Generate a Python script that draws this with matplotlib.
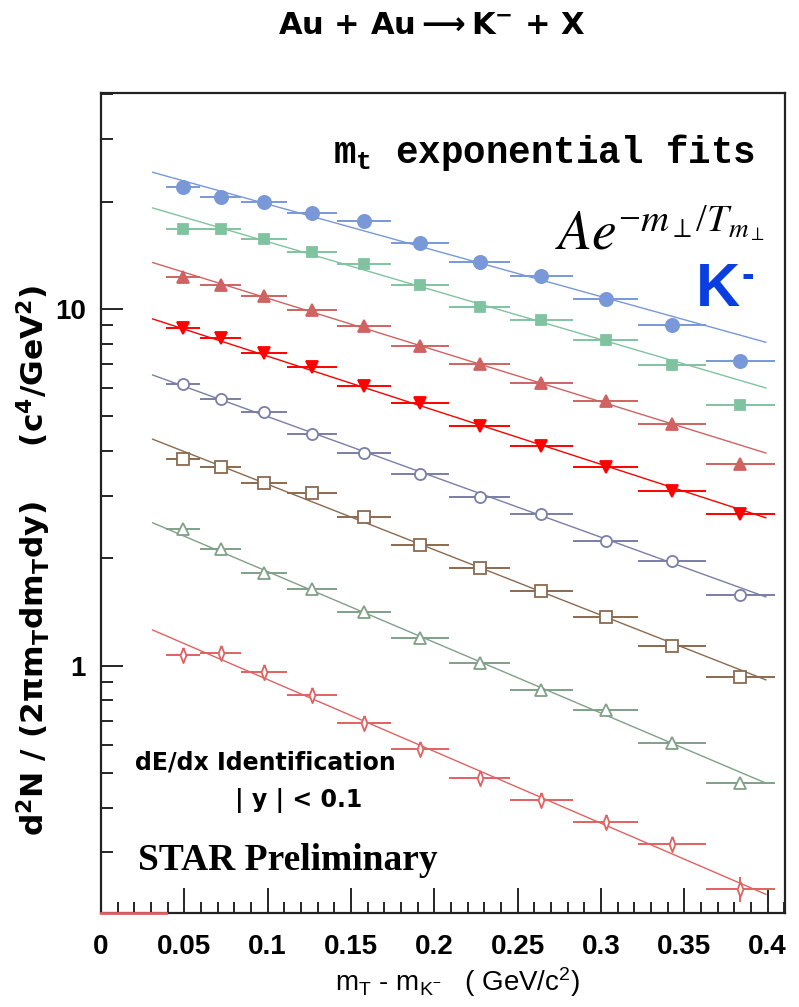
import numpy as np
import matplotlib
matplotlib.use("Agg")
import matplotlib.pyplot as plt
from matplotlib.ticker import FixedLocator, FixedFormatter, MultipleLocator, LogLocator, NullFormatter

plt.rcParams['font.family'] = ['Liberation Sans', 'DejaVu Sans']
plt.rcParams['mathtext.default'] = 'regular'

# ---- data ----
# bin edges in mT - mK (GeV/c^2)
bin_edges = np.array([0.0390, 0.0597, 0.0840, 0.1115, 0.1417, 0.1743,
                      0.2090, 0.2454, 0.2833, 0.3225, 0.3629, 0.4042])

s1 = [21.97, 20.6, 19.9, 18.6, 17.6, 15.3, 13.5, 12.4, 10.7, 9.02, 7.15]
s2 = [16.75, 16.75, 15.7, 14.4, 13.4, 11.7, 10.1, 9.31, 8.19, 6.97, 5.38]
s3 = [12.3, 11.7, 10.9, 9.94, 8.96, 7.88, 7.01, 6.20, 5.53, 4.76, 3.68]
s4 = [8.85, 8.29, 7.53, 6.88, 6.09, 5.45, 4.70, 4.13, 3.61, 3.09, 2.67]
s5 = [6.17, 5.60, 5.15, 4.47, 3.95, 3.45, 2.97, 2.67, 2.24, 1.97, 1.58]
s6 = [3.80, 3.61, 3.26, 3.05, 2.61, 2.18, 1.88, 1.62, 1.37, 1.14, 0.932]
s7 = [2.42, 2.13, 1.82, 1.64, 1.42, 1.20, 1.02, 0.857, 0.753, 0.609, 0.470]
s8 = [1.07, 1.09, 0.962, 0.829, 0.692, 0.586, 0.486, 0.421, 0.366, 0.317, 0.237]
s8_yerr_frac = [0.035, 0.035, 0.035, 0.035, 0.035, 0.035, 0.035, 0.035, 0.035, 0.035, 0.08]

# exponential fit parameters A * exp(-x/T)
fit_A = [26.5, 21.17, 14.97, 10.45, 7.37, 4.92, 2.90, 1.455]
fit_T = [0.3355, 0.3168, 0.2994, 0.2868, 0.2570, 0.2370, 0.2191, 0.2158]
fit_range = (0.031, 0.399)

x_ticks = [0, 0.05, 0.1, 0.15, 0.2, 0.25, 0.3, 0.35, 0.4]
x_tick_labels = ['0', '0.05', '0.1', '0.15', '0.2', '0.25', '0.3', '0.35', '0.4']
y_ticks = [1, 10]
y_tick_labels = ['1', '10']

series = [s1, s2, s3, s4, s5, s6, s7, s8]
colors = ['#7898d8', '#80c3a0', '#d06262', '#ff0000', '#7a7ea8', '#8b6a4f', '#80a088', '#e06262']
markers = ['o', 's', '^', 'v', 'o', 's', '^', [(0, 1), (0.38, 0), (0, -1), (-0.38, 0), (0, 1)]]
filled = [True, True, True, True, False, False, False, False]
msizes = [9.5, 7.5, 9, 9, 8, 8.5, 8.5, 11]

# ---- figure ----
W, H = 799, 1007
fig = plt.figure(figsize=(W / 100, H / 100), dpi=100)
ax = fig.add_axes([101 / W, 1 - 913 / H, (785 - 101) / W, (913 - 93) / H])
ax.set_yscale('log')
ax.set_xlim(0, 0.4105)
ax.set_ylim(0.203, 40.3)

xc = 0.5 * (bin_edges[:-1] + bin_edges[1:])
xhw = 0.5 * (bin_edges[1:] - bin_edges[:-1])

xf = np.linspace(fit_range[0], fit_range[1], 100)
for i, (ys, c, m, f, ms) in enumerate(zip(series, colors, markers, filled, msizes)):
    ys = np.array(ys)
    yerr = None
    if i == 7:
        yerr = ys * np.array(s8_yerr_frac)
    ax.plot(xf, fit_A[i] * np.exp(-xf / fit_T[i]), color=c, lw=1.0, zorder=2)
    ax.errorbar(xc, ys, xerr=xhw, yerr=yerr, fmt='none', ecolor=c, elinewidth=1.4,
                capsize=0, zorder=3)
    ax.plot(xc, ys, linestyle='none', marker=m, markersize=ms,
            markerfacecolor=c if f else 'white', markeredgecolor=c,
            markeredgewidth=1.3, zorder=4)

# small red segment on the bottom axis (empty first bin)
ax.plot([0, bin_edges[0]], [ax.get_ylim()[0]] * 2, color=colors[7], lw=2.0,
        clip_on=False, zorder=5)

# ticks
ax.xaxis.set_major_locator(FixedLocator(x_ticks))
ax.xaxis.set_major_formatter(FixedFormatter(x_tick_labels))
ax.xaxis.set_minor_locator(MultipleLocator(0.01))
ax.yaxis.set_major_locator(FixedLocator(y_ticks))
ax.yaxis.set_major_formatter(FixedFormatter(y_tick_labels))
ax.yaxis.set_minor_locator(LogLocator(base=10, subs=np.arange(2, 10)))
ax.yaxis.set_minor_formatter(NullFormatter())

ax.tick_params(axis='x', which='major', direction='in', length=18, width=1.2,
               pad=15, labelsize=20, top=False)
ax.tick_params(axis='x', which='minor', direction='in', length=8, width=1.2, top=False)
ax.tick_params(axis='y', which='major', direction='in', length=16, width=1.2,
               pad=11, labelsize=20, right=False)
ax.tick_params(axis='y', which='minor', direction='in', length=8.5, width=1.2, right=False)
for lab in ax.get_xticklabels() + ax.get_yticklabels():
    lab.set_fontweight('bold')
for sp in ax.spines.values():
    sp.set_linewidth(1.6)
    sp.set_color('#222222')

def fx(x):
    return x / W

def fy(y):
    return 1 - y / H

DJB = ['DejaVu Sans']

fig.text(fx(432), fy(25), r'Au + Au$\longrightarrow$K$^{-}$ + X', ha='center', va='center',
         fontsize=22, fontweight='bold', family=DJB)

fig.text(fx(755), fy(163), r'm$_{t}$ exponential fits', ha='right', va='baseline',
         fontsize=27, fontweight='bold', family=['Liberation Mono', 'DejaVu Sans Mono'])

fig.text(fx(555), fy(249),
         r'$\mathit{Ae}^{-\mathit{m}_{\perp}/\mathit{T}_{\mathit{m}_{\perp}}}$',
         ha='left', va='baseline', fontsize=40, math_fontfamily='stix',
         family=['Liberation Serif', 'DejaVu Serif'])

fig.text(fx(696), fy(306), 'K', ha='left', va='baseline', fontsize=44,
         fontweight='bold', color='#0a3ee0')
fig.text(fx(748), fy(287), '-', ha='center', va='baseline', fontsize=27,
         fontweight='bold', color='#0a3ee0')

fig.text(fx(135), fy(770), 'dE/dx Identification', ha='left', va='baseline',
         fontsize=17, fontweight='bold', family=DJB)
fig.text(fx(235), fy(807), '| y | < 0.1', ha='left', va='baseline', fontsize=17,
         fontweight='bold', family=DJB)

fig.text(fx(138), fy(870), 'STAR Preliminary', ha='left', va='baseline',
         fontsize=27, fontweight='bold', family=['Liberation Serif', 'DejaVu Serif'])

fig.text(fx(458), fy(982), r'm$_{T}$ - m$_{K^{-}}$   ( GeV/c$^{2}$)', ha='center',
         va='center', fontsize=20)

fig.text(fx(34), fy(560), r'd$^{2}$N / (2$\pi$m$_{T}$dm$_{T}$dy)     (c$^{4}$/GeV$^{2}$)',
         ha='center', va='center', rotation=90, fontsize=22.5, fontweight='bold', family=DJB)

fig.savefig('out.png', dpi=100)
